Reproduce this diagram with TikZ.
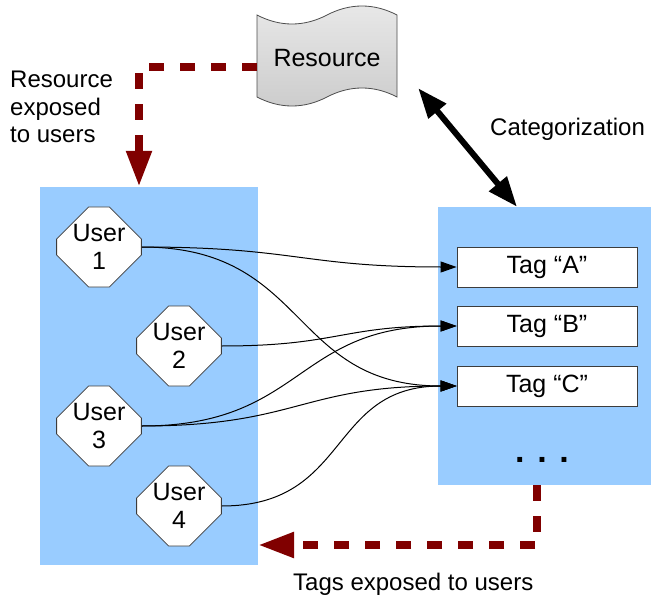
\documentclass[tikz,border=0pt]{standalone}
\usepackage{fontspec}
\setmainfont{Liberation Sans}
\usetikzlibrary{arrows.meta,shapes.misc}
\definecolor{panelblue}{RGB}{153,204,255}
\definecolor{darkred}{RGB}{128,0,0}
\definecolor{edgegray}{RGB}{60,60,60}
\begin{document}
\begin{tikzpicture}[x=1pt,y=-1pt,
  every node/.style={font=\fontsize{24}{27.5}\selectfont, inner sep=0pt},
  boxtext/.style={font=\fontsize{25}{28}\selectfont},
  panel/.style={rectangle, fill=panelblue, draw=none},
  user/.style={boxtext, chamfered rectangle, chamfered rectangle xsep=16pt,
    chamfered rectangle ysep=16pt, minimum width=80pt, minimum height=80pt,
    draw=edgegray, line width=0.8pt, fill=white, align=center},
  tag/.style={boxtext, rectangle, minimum width=180pt, minimum height=40pt,
    draw=edgegray, line width=0.8pt, fill=white},
  link/.style={line width=1pt, looseness=1.25, -{Triangle[length=16pt,width=11pt]}},
  flow/.style={draw=darkred, line width=8pt, dash pattern=on 15.5pt off 15.5pt,
    -{Triangle[length=36pt,width=24pt]}},
  catarrow/.style={line width=6pt,
    {Triangle[length=30pt,width=22pt]}-{Triangle[length=30pt,width=22pt]}}
]
\useasboundingbox (0,0) rectangle (651,599);

% background panels
\node[panel, minimum width=218pt, minimum height=378pt] (users) at (149,376) {};
\node[panel, minimum width=213pt, minimum height=278pt] (tagsp) at (544.5,346) {};

% resource (punched tape shape)
\path[draw=black!70, line width=0.8pt, top color=black!9, bottom color=black!20]
  (257,15) .. controls (280,27) and (304,27) .. (327,15)
           .. controls (350,3) and (374,3) .. (397,15)
  -- (397,97) .. controls (374,85) and (350,85) .. (327,97)
           .. controls (304,109) and (280,109) .. (257,97) -- cycle;
\node[boxtext, minimum width=140pt, minimum height=92pt] (res) at (327,58) {Resource};

% users
\node[user] (u1) at (99,247) {User\\1};
\node[user] (u2) at (179,346) {User\\2};
\node[user] (u3) at (99,426) {User\\3};
\node[user] (u4) at (179,506) {User\\4};

% tags
\node[tag] (tA) at (547,267) {Tag “A”};
\node[tag] (tB) at (547,326) {Tag “B”};
\node[tag] (tC) at (547,386) {Tag “C”};
\node[font=\fontsize{34}{34}\selectfont\bfseries, anchor=base] (more) at (542,462) {. . .};

% labels
\node[anchor=base west] (cat) at (490,136) {Categorization};
\node[anchor=base west] (tagsexp) at (293,590) {Tags exposed to users};
\node[anchor=north west, align=left] (resexp) at (10,70.8) {Resource\\exposed\\to users};

% flows
\coordinate (resout) at (257,67.5);
\draw[flow] (resout) -| ([xshift=-10pt]users.north);
\coordinate (tagsout) at (537,485);
\coordinate (usersin) at (258,545);
\draw[flow] (tagsout) |- (usersin);

\draw[catarrow] ([xshift=21pt,yshift=16pt]res.south east) -- ([xshift=-27.5pt]tagsp.north);

% user-tag links
\draw[link] (u1.east) to[out=0,in=180] (tA.west);
\draw[link] (u1.east) to[out=0,in=180] (tC.west);
\draw[link] (u2.east) to[out=0,in=180] (tB.west);
\draw[link] (u3.east) to[out=0,in=180] (tB.west);
\draw[link] (u3.east) to[out=0,in=180] (tC.west);
\draw[link] (u4.east) to[out=0,in=180] (tC.west);
\end{tikzpicture}
\end{document}
